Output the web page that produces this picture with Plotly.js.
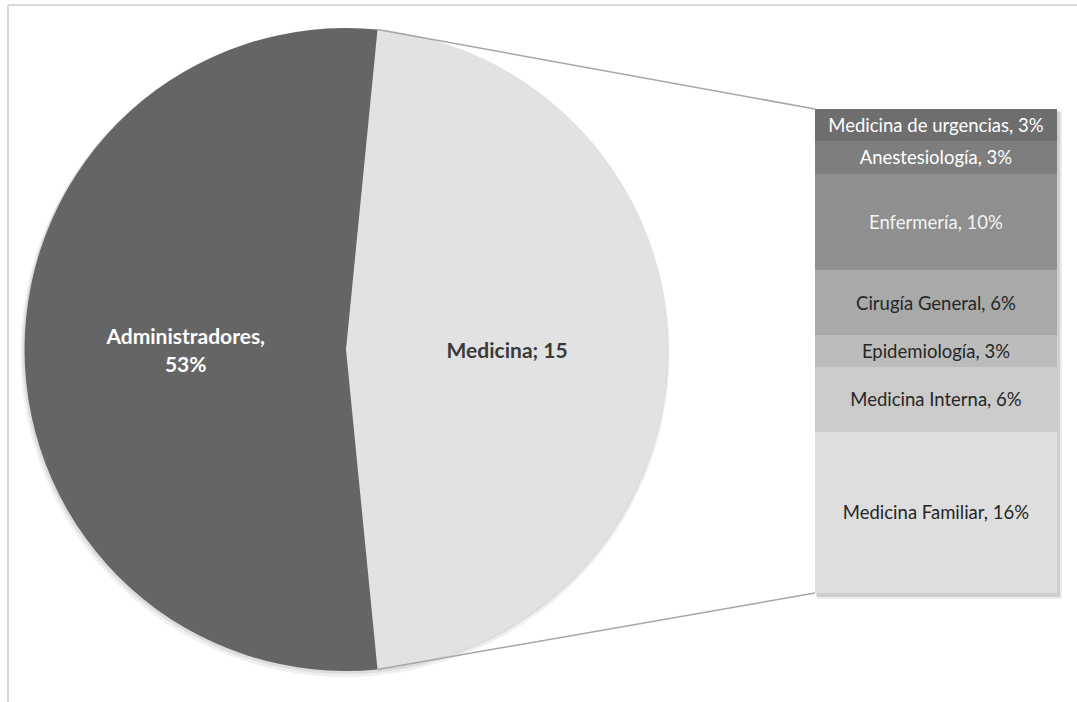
<!DOCTYPE html>
<html><head><meta charset="utf-8">
<script src="https://cdn.plot.ly/plotly-3.0.1.min.js"></script>
<style>html,body{margin:0;padding:0;background:#fff}#chart{width:1077px;height:702px}</style>
</head><body><div id="chart"></div>
<script>
// ---- data ----
const pieLabels = ['Medicina', 'Administradores'];
const pieValues = [15, 17];
const pieColors = ['#e2e2e2', '#656565'];
const barLabels = ['Medicina Familiar', 'Medicina Interna', 'Epidemiología', 'Cirugía General', 'Enfermería', 'Anestesiología', 'Medicina de urgencias'];
const barValues = [5, 2, 1, 2, 3, 1, 1];
const barPercents = [16, 6, 3, 6, 10, 3, 3];
const barColors = ['#dedede', '#cbcbcb', '#bcbcbc', '#a9a9a9', '#8f8f8f', '#7e7e7e', '#6e6e6e'];
const barTextColors = ['#262626', '#262626', '#262626', '#262626', '#f4f4f4', '#ffffff', '#ffffff'];

// ---- layout geometry (pixels) ----
const W = 1077, H = 702;
const cx = 346, cy = 349.5, R = 321.5;
const barL = 815, barR = 1057, barT = 109, barB = 593;
const px = x => x / W, py = y => 1 - y / H;

const total = pieValues.reduce((a, b) => a + b, 0);
const medDeg = pieValues[0] / total * 360;
const rotation = 90 - medDeg / 2;
const FONT = 'Lato, "Open Sans", sans-serif';

const pieText = [
  '<b>' + pieLabels[0] + '; ' + pieValues[0] + '</b>',
  '<b>' + pieLabels[1] + ',<br>' + Math.round(pieValues[1] / total * 100) + '%</b>'
];

const traces = [{
  type: 'pie', labels: pieLabels, values: pieValues, sort: false, direction: 'clockwise',
  rotation: rotation, text: pieText, textinfo: 'text', textposition: 'inside',
  insidetextorientation: 'horizontal', hoverinfo: 'label+value',
  marker: {colors: pieColors, line: {width: 0}},
  textfont: {family: FONT, size: 21, color: ['#3a3a3a', '#ffffff']},
  domain: {x: [px(cx - R), px(cx + R)], y: [py(cy + R), py(cy - R)]},
  showlegend: false
}];

barLabels.forEach((lab, i) => {
  traces.push({
    type: 'bar', x: [0], y: [barValues[i]], width: [1], name: lab,
    marker: {color: barColors[i], line: {width: 0}},
    text: [lab + ', ' + barPercents[i] + '%'], textposition: 'inside',
    insidetextanchor: 'middle', textangle: 0,
    textfont: {family: FONT, size: 18.5, color: barTextColors[i]},
    xaxis: 'x', yaxis: 'y', showlegend: false, hoverinfo: 'name+y', cliponaxis: false
  });
});

const a = rotation * Math.PI / 180;
const topPt = [cx + R * Math.sin(a), cy - R * Math.cos(a)];
const botPt = [cx + R * Math.sin(a), cy + R * Math.cos(a)];

const shapes = [
  // frame lines
  {type: 'line', xref: 'paper', yref: 'paper', x0: px(8), x1: 1, y0: py(5), y1: py(5), line: {color: '#d9d9d9', width: 2}},
  {type: 'line', xref: 'paper', yref: 'paper', x0: px(8), x1: px(8), y0: py(5), y1: 0, line: {color: '#d9d9d9', width: 2}},
  // pie soft shadow
  {type: 'circle', layer: 'below', xref: 'paper', yref: 'paper', x0: px(cx - R - 4), x1: px(cx + R + 2), y0: py(cy + R + 6), y1: py(cy - R + 1), fillcolor: 'rgba(0,0,0,0.06)', line: {width: 0}},
  {type: 'circle', layer: 'below', xref: 'paper', yref: 'paper', x0: px(cx - R - 2), x1: px(cx + R + 1), y0: py(cy + R + 3), y1: py(cy - R), fillcolor: 'rgba(0,0,0,0.08)', line: {width: 0}},
  // bar shadow
  {type: 'rect', layer: 'below', xref: 'paper', yref: 'paper', x0: px(barL + 2), x1: px(barR + 5), y0: py(barB + 6), y1: py(barT + 3), fillcolor: 'rgba(0,0,0,0.08)', line: {width: 0}},
  {type: 'rect', layer: 'below', xref: 'paper', yref: 'paper', x0: px(barL + 1), x1: px(barR + 3), y0: py(barB + 4), y1: py(barT + 2), fillcolor: 'rgba(0,0,0,0.12)', line: {width: 0}},
  // connector lines
  {type: 'line', xref: 'paper', yref: 'paper', x0: px(topPt[0]), y0: py(topPt[1]), x1: px(barL), y1: py(barT), line: {color: '#a6a6a6', width: 1.5}},
  {type: 'line', xref: 'paper', yref: 'paper', x0: px(botPt[0]), y0: py(botPt[1]), x1: px(barL), y1: py(barB), line: {color: '#a6a6a6', width: 1.5}}
];

const layout = {
  width: W, height: H, margin: {l: 0, r: 0, t: 0, b: 0},
  paper_bgcolor: '#ffffff', plot_bgcolor: 'rgba(0,0,0,0)',
  barmode: 'stack', bargap: 0, showlegend: false,
  font: {family: FONT},
  xaxis: {domain: [px(barL), px(barR)], range: [-0.5, 0.5], visible: false, fixedrange: true},
  yaxis: {domain: [py(barB), py(barT)], range: [0, barValues.reduce((s, v) => s + v, 0)], visible: false, fixedrange: true},
  uniformtext: {mode: 'show', minsize: 12},
  shapes: shapes
};

Plotly.newPlot('chart', traces, layout, {displayModeBar: false, staticPlot: true});
</script></body></html>
